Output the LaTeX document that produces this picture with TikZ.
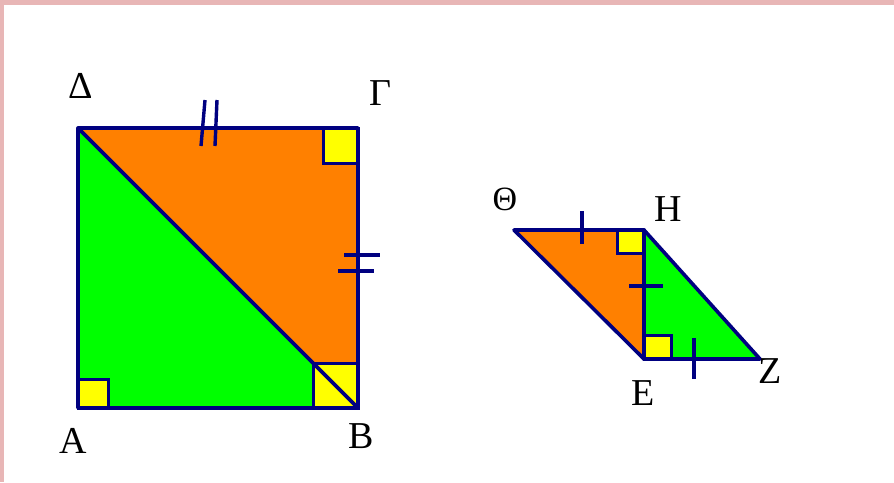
\documentclass[tikz,border=0pt]{standalone}
\usepackage{fontspec}
\setmainfont{Liberation Serif}
\definecolor{navy}{HTML}{000080}
\definecolor{orng}{HTML}{FF8000}
\definecolor{grn}{HTML}{00FF00}
\definecolor{ylw}{HTML}{FFFF00}
\definecolor{pinkb}{HTML}{E8B6B6}
\begin{document}
\begin{tikzpicture}[x=1pt,y=-1pt,
  edge/.style={draw=navy,line width=3.6pt,line join=round,line cap=round},
  tick/.style={draw=navy,line width=3.4pt},
  rmark/.style={fill=ylw,draw=navy,line width=3pt},
  lbl/.style={inner sep=0pt,font=\fontsize{38}{40}\selectfont}]
\useasboundingbox (0,0) rectangle (894,482);
\fill[white] (0,0) rectangle (894,482);
\fill[pinkb] (0,0) rectangle (894,5);
\fill[pinkb] (0,0) rectangle (3.5,482);
% square vertices
\coordinate (A) at (78,408);
\coordinate (B) at (358,408);
\coordinate (G) at (358,128);
\coordinate (D) at (78,128);
% parallelogram vertices
\coordinate (T) at (514,230);
\coordinate (H) at (644,230);
\coordinate (E) at (644,359);
\coordinate (Z) at (760,359);
% fills
\fill[orng] (D) -- (G) -- (B) -- cycle;
\fill[grn] (D) -- (A) -- (B) -- cycle;
\fill[orng] (T) -- (H) -- (E) -- cycle;
\fill[grn] (H) -- (E) -- (Z) -- cycle;
% right angle markers
\draw[rmark] (A) rectangle ++(30,-29);
\draw[rmark] (G) rectangle ++(-35,35);
\draw[rmark] (B) rectangle ++(-45,-45);
\draw[rmark] (H) rectangle ++(-27,23);
\draw[rmark] (E) rectangle ++(27,-24);
% outlines
\draw[edge] (A) -- (B) -- (G) -- (D) -- cycle;
\draw[edge] (D) -- (B);
\draw[edge] (T) -- (H) -- (Z) -- (E) -- cycle;
\draw[edge] (H) -- (E);
% ticks
\draw[tick] (205,100) -- (201,146);
\draw[tick] (217,100) -- (215,146);
\draw[tick] (344,255) -- (380,255);
\draw[tick] (338,271) -- (374,271);
\draw[tick] (582,211) -- (582,244);
\draw[tick] (629,286) -- (663,286);
\draw[tick] (694,338) -- (694,379);
% labels
\node[lbl] (lD) at (81,86) {Δ};
\node[lbl] (lG) at (380,93) {Γ};
\node[lbl] (lA) at (73,441) {A};
\node[lbl] (lB) at (361,436) {B};
\node[lbl,font=\fontsize{34}{36}\selectfont] (lT) at (505,199) {Θ};
\node[lbl] (lH) at (668,209) {H};
\node[lbl] (lE) at (643,393) {E};
\node[lbl] (lZ) at (770,371) {Z};
\end{tikzpicture}
\end{document}
